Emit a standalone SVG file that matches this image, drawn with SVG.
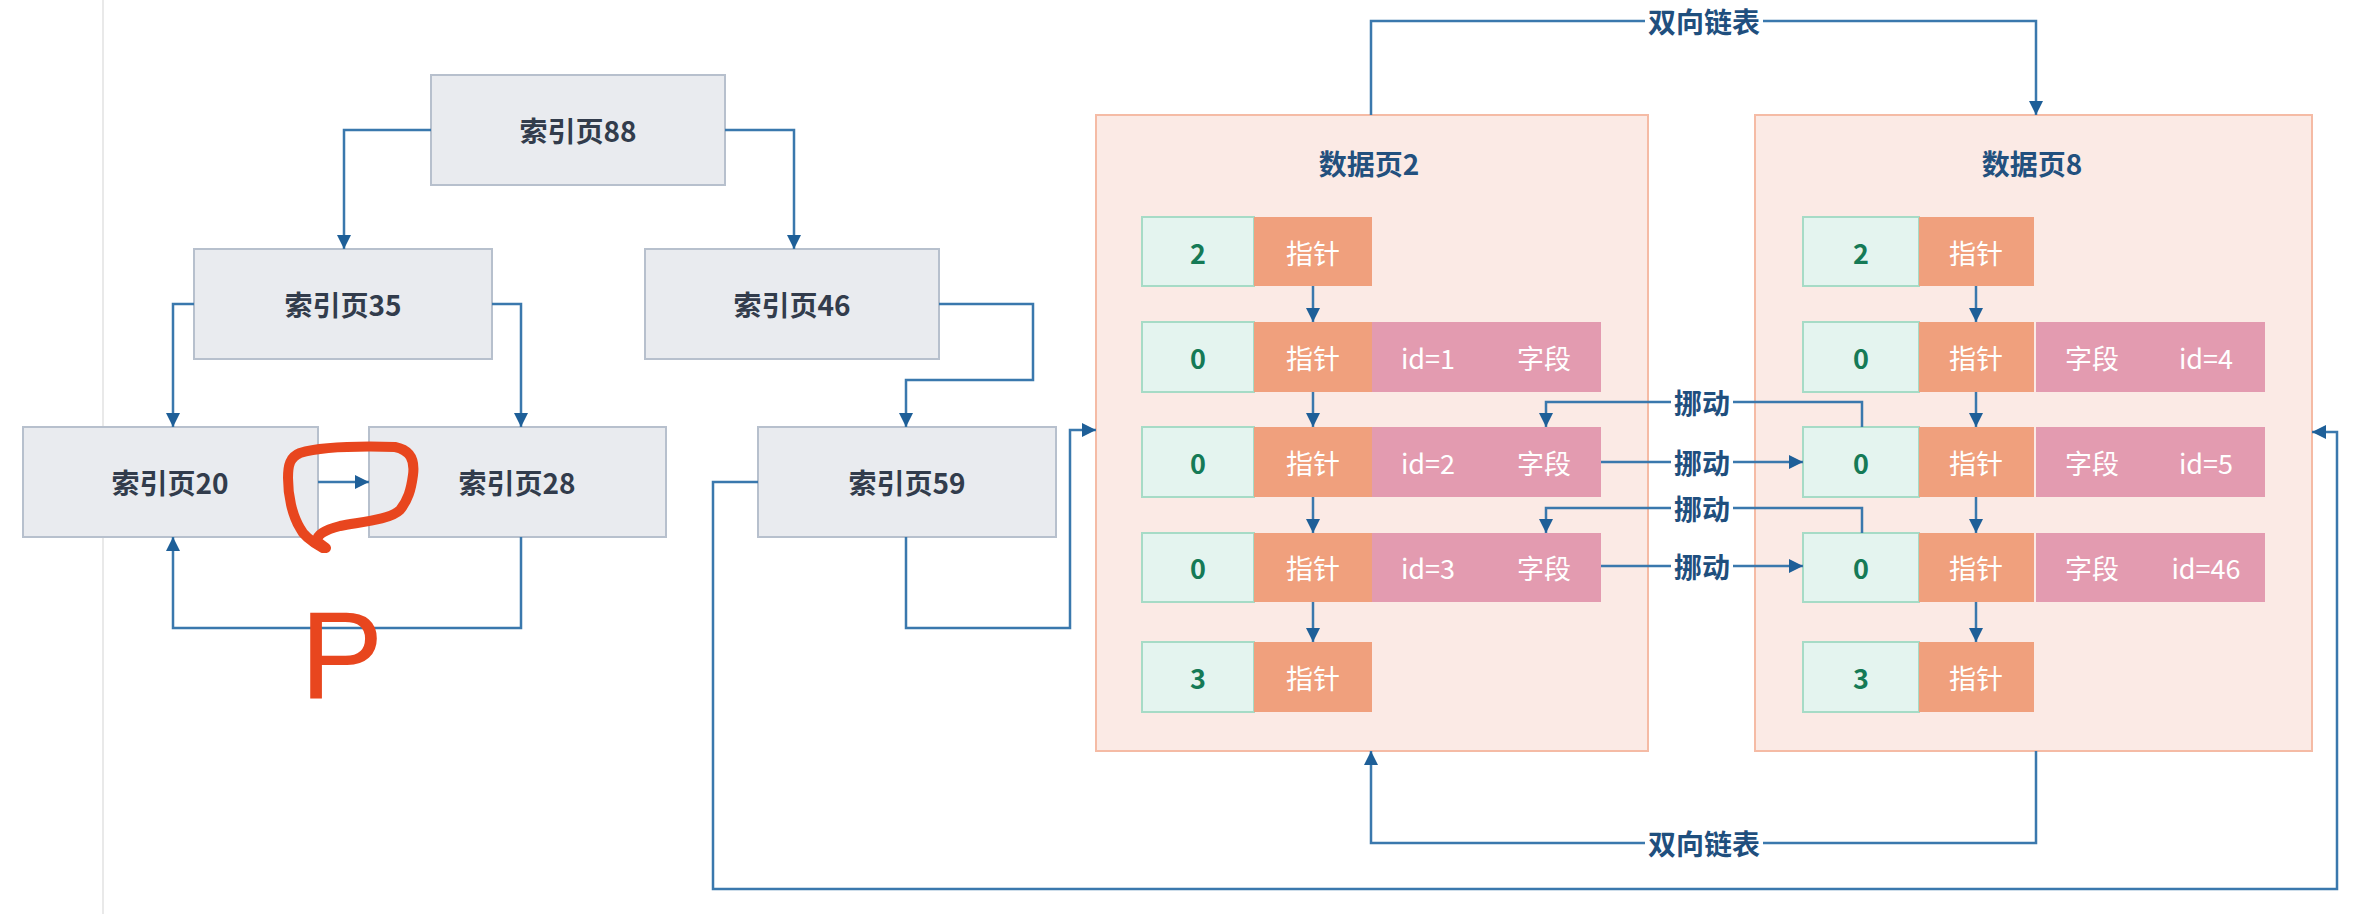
<svg xmlns="http://www.w3.org/2000/svg" width="2354" height="914" viewBox="0 0 2354 914">
<defs>
<style>
.bg{fill:#ffffff}
.ibox{fill:#e9ebef;stroke:#b7c0cd;stroke-width:2}
.t{font-family:"Noto Sans CJK SC","Noto Sans",sans-serif;text-anchor:middle;dominant-baseline:central;font-weight:bold}
.itxt{font-size:28px;fill:#323c4c}
.page{fill:#fbeae5;stroke:#f5bba5;stroke-width:2}
.ptitle{font-size:28px;fill:#22507e}
.g{fill:#e4f4ef;stroke:#a6dbc6;stroke-width:2}
.gt{font-size:27px;fill:#157a56}
.o{fill:#f0a07d}
.p{fill:#e39bb0}
.wt{font-size:27px;fill:#ffffff;font-weight:normal}
.conn{fill:none;stroke:#3a78ad;stroke-width:2.5}
.arr{marker-end:url(#ah)}
.lbl{font-size:28px;fill:#1f4f7e}
.red{fill:none;stroke:#e8461e;stroke-width:10;stroke-linecap:round;stroke-linejoin:round}
</style>
<marker id="ah" markerUnits="userSpaceOnUse" markerWidth="16" markerHeight="16" refX="14" refY="7" orient="auto">
<path d="M0,0 L14,7 L0,14 z" fill="#1e5f98"/>
</marker>
</defs>
<rect class="bg" x="0" y="0" width="2354" height="914"/>
<line x1="103" y1="0" x2="103" y2="914" stroke="#e2e2e2" stroke-width="1.5"/>

<g id="idx88"><rect class="ibox" x="431" y="75" width="294" height="110"/><text class="t itxt" x="578" y="130">索引页88</text></g>
<g id="idx35"><rect class="ibox" x="194" y="249" width="298" height="110"/><text class="t itxt" x="343" y="304">索引页35</text></g>
<g id="idx46"><rect class="ibox" x="645" y="249" width="294" height="110"/><text class="t itxt" x="792" y="304">索引页46</text></g>
<g id="idx20"><rect class="ibox" x="23" y="427" width="295" height="110"/><text class="t itxt" x="170" y="482">索引页20</text></g>
<g id="idx28"><rect class="ibox" x="369" y="427" width="297" height="110"/><text class="t itxt" x="517" y="482">索引页28</text></g>
<g id="idx59"><rect class="ibox" x="758" y="427" width="298" height="110"/><text class="t itxt" x="907" y="482">索引页59</text></g>

<g id="page2">
<rect class="page" x="1096" y="115" width="552" height="636"/>
<text class="t ptitle" x="1369" y="163">数据页2</text>
<rect class="g" x="1142" y="217" width="112" height="69"/><rect class="o" x="1254" y="217" width="118" height="69"/>
<text class="t gt" x="1198" y="252">2</text><text class="t wt" x="1313" y="252">指针</text>
<rect class="g" x="1142" y="322" width="112" height="70"/><rect class="o" x="1254" y="322" width="118" height="70"/><rect class="p" x="1372" y="322" width="229" height="70"/>
<text class="t gt" x="1198" y="357">0</text><text class="t wt" x="1313" y="357">指针</text><text class="t wt" x="1428" y="357">id=1</text><text class="t wt" x="1544" y="357">字段</text>
<rect class="g" x="1142" y="427" width="112" height="70"/><rect class="o" x="1254" y="427" width="118" height="70"/><rect class="p" x="1372" y="427" width="229" height="70"/>
<text class="t gt" x="1198" y="462">0</text><text class="t wt" x="1313" y="462">指针</text><text class="t wt" x="1428" y="462">id=2</text><text class="t wt" x="1544" y="462">字段</text>
<rect class="g" x="1142" y="533" width="112" height="69"/><rect class="o" x="1254" y="533" width="118" height="69"/><rect class="p" x="1372" y="533" width="229" height="69"/>
<text class="t gt" x="1198" y="567">0</text><text class="t wt" x="1313" y="567">指针</text><text class="t wt" x="1428" y="567">id=3</text><text class="t wt" x="1544" y="567">字段</text>
<rect class="g" x="1142" y="642" width="112" height="70"/><rect class="o" x="1254" y="642" width="118" height="70"/>
<text class="t gt" x="1198" y="677">3</text><text class="t wt" x="1313" y="677">指针</text>
</g>

<g id="page8">
<rect class="page" x="1755" y="115" width="557" height="636"/>
<text class="t ptitle" x="2032" y="163">数据页8</text>
<rect class="g" x="1803" y="217" width="116" height="69"/><rect class="o" x="1919" y="217" width="115" height="69"/>
<text class="t gt" x="1861" y="252">2</text><text class="t wt" x="1976" y="252">指针</text>
<rect class="g" x="1803" y="322" width="116" height="70"/><rect class="o" x="1919" y="322" width="115" height="70"/><rect class="p" x="2036" y="322" width="229" height="70"/>
<text class="t gt" x="1861" y="357">0</text><text class="t wt" x="1976" y="357">指针</text><text class="t wt" x="2092" y="357">字段</text><text class="t wt" x="2206" y="357">id=4</text>
<rect class="g" x="1803" y="427" width="116" height="70"/><rect class="o" x="1919" y="427" width="115" height="70"/><rect class="p" x="2036" y="427" width="229" height="70"/>
<text class="t gt" x="1861" y="462">0</text><text class="t wt" x="1976" y="462">指针</text><text class="t wt" x="2092" y="462">字段</text><text class="t wt" x="2206" y="462">id=5</text>
<rect class="g" x="1803" y="533" width="116" height="69"/><rect class="o" x="1919" y="533" width="115" height="69"/><rect class="p" x="2036" y="533" width="229" height="69"/>
<text class="t gt" x="1861" y="567">0</text><text class="t wt" x="1976" y="567">指针</text><text class="t wt" x="2092" y="567">字段</text><text class="t wt" x="2206" y="567">id=46</text>
<rect class="g" x="1803" y="642" width="116" height="70"/><rect class="o" x="1919" y="642" width="115" height="70"/>
<text class="t gt" x="1861" y="677">3</text><text class="t wt" x="1976" y="677">指针</text>
</g>

<g id="connectors">
<path class="conn arr" d="M431,130 H344 V249"/>
<path class="conn arr" d="M725,130 H794 V249"/>
<path class="conn arr" d="M194,304 H173 V427"/>
<path class="conn arr" d="M492,304 H521 V427"/>
<path class="conn arr" d="M939,304 H1033 V380 H906 V427"/>
<path class="conn arr" d="M318,482 H369"/>
<path class="conn arr" d="M521,537 V628 H173 V537"/>
<path class="conn arr" d="M906,537 V628 H1070 V430 H1096"/>
<path class="conn arr" d="M758,482 H713 V889 H2337 V432 H2312"/>
<path class="conn arr" d="M1313,286 V322"/>
<path class="conn arr" d="M1313,392 V427"/>
<path class="conn arr" d="M1313,497 V533"/>
<path class="conn arr" d="M1313,602 V642"/>
<path class="conn arr" d="M1976,286 V322"/>
<path class="conn arr" d="M1976,392 V427"/>
<path class="conn arr" d="M1976,497 V533"/>
<path class="conn arr" d="M1976,602 V642"/>
<path class="conn arr" d="M1371,115 V21 H1645 M1763,21 H2036 V115"/>
<text class="t lbl" x="1704" y="21">双向链表</text>
<path class="conn arr" d="M2036,751 V843 H1763 M1645,843 H1371 V751"/>
<text class="t lbl" x="1704" y="843">双向链表</text>
<path class="conn arr" d="M1862,427 V402 H1733 M1671,402 H1546 V427"/>
<text class="t lbl" x="1702" y="402">挪动</text>
<path class="conn arr" d="M1601,462 H1671 M1733,462 H1803"/>
<text class="t lbl" x="1702" y="462">挪动</text>
<path class="conn arr" d="M1862,533 V508 H1733 M1671,508 H1546 V533"/>
<text class="t lbl" x="1702" y="508">挪动</text>
<path class="conn arr" d="M1601,566 H1671 M1733,566 H1803"/>
<text class="t lbl" x="1702" y="566">挪动</text>
</g>

<g id="annotations">
<path class="red" d="M323,548 C312,542 303,535 300,528 C292,515 288,495 288,478 C288,465 290,457 300,453 C320,447 360,446 395,447 C410,450 415,460 413,475 C411,490 408,500 400,510 C390,520 360,522 340,526 C325,530 315,535 318,542 L326,548"/>
<text x="300" y="698" font-family="Liberation Sans, sans-serif" font-size="125" fill="#e8461e">P</text>
</g>
</svg>
